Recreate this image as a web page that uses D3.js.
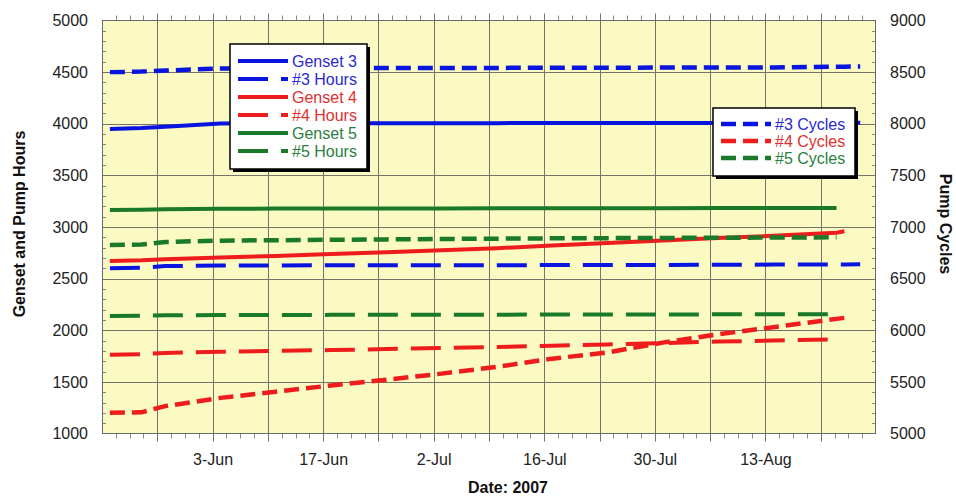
<!DOCTYPE html>
<meta charset="utf-8">
<script src="https://d3js.org/d3.v7.min.js"></script>
<style>
  body { margin: 0; background: #fff; }
  text { font-family: "Liberation Sans", Arial, sans-serif; }
</style>
<div id="chart"></div>
<script>

// readings: days counted from 20-May-2007
var days    = [1, 5, 8, 15, 22, 29, 36, 43, 50, 57, 64, 71, 78, 85, 93, 94, 96];

var genset3 = [3950, 3958, 3972, 4003, 4004, 4005, 4005, 4006, 4006, 4007, 4007, 4008, 4008, 4009, 4010, 4010, 4010];
var hours3  = [2600, 2605, 2622, 2626, 2628, 2630, 2630, 2630, 2630, 2631, 2632, 2633, 2634, 2636, 2638, 2638, 2640];
var cycles3 = [8500, 8505, 8515, 8535, 8538, 8540, 8540, 8541, 8541, 8542, 8543, 8544, 8545, 8546, 8552, 8553, 8555];
var genset4 = [2670, 2677, 2688, 2705, 2720, 2738, 2755, 2775, 2795, 2820, 2845, 2870, 2893, 2915, 2945, 2958, null];
var hours4  = [1762, 1768, 1780, 1792, 1800, 1808, 1818, 1828, 1838, 1850, 1862, 1876, 1890, 1900, 1912, null, null];
var cycles4 = [5200, 5205, 5265, 5345, 5405, 5465, 5520, 5580, 5645, 5725, 5785, 5880, 5960, 6030, 6110, 6120, null];
var genset5 = [3165, 3167, 3172, 3176, 3178, 3179, 3180, 3180, 3181, 3181, 3182, 3182, 3183, 3183, 3184, null, null];
var hours5  = [2138, 2140, 2145, 2147, 2148, 2149, 2150, 2150, 2151, 2152, 2152, 2153, 2154, 2154, 2155, null, null];
var cycles5 = [6825, 6830, 6855, 6868, 6872, 6876, 6880, 6884, 6887, 6890, 6892, 6894, 6896, 6898, 6900, null, null];

var xTickDays   = [14, 28, 42, 56, 70, 84];
var xTickLabels = ["3-Jun", "17-Jun", "2-Jul", "16-Jul", "30-Jul", "13-Aug"];
var leftTicks   = [1000, 1500, 2000, 2500, 3000, 3500, 4000, 4500, 5000];
var rightTicks  = [5000, 5500, 6000, 6500, 7000, 7500, 8000, 8500, 9000];

var blue = "#0a14e0", red = "#ee1c1c", green = "#1b7a2a";

var series = [
  {name: "Genset 3",  values: genset3, color: blue,  dash: null,    w: 4,   axis: "L", legend: 1, tc: "#2a2ad0"},
  {name: "#3 Hours",  values: hours3,  color: blue,  dash: "30,13", w: 4,   axis: "L", legend: 1, tc: "#2a2ad0"},
  {name: "Genset 4",  values: genset4, color: red,   dash: null,    w: 4,   axis: "L", legend: 1, tc: "#e03030"},
  {name: "#4 Hours",  values: hours4,  color: red,   dash: "30,13", w: 4,   axis: "L", legend: 1, tc: "#e03030"},
  {name: "Genset 5",  values: genset5, color: green, dash: null,    w: 4,   axis: "L", legend: 1, tc: "#2a8040"},
  {name: "#5 Hours",  values: hours5,  color: green, dash: "30,13", w: 4,   axis: "L", legend: 1, tc: "#2a8040"},
  {name: "#3 Cycles", values: cycles3, color: blue,  dash: "15,7",  w: 4.5, axis: "R", legend: 2, tc: "#2a2ad0"},
  {name: "#4 Cycles", values: cycles4, color: red,   dash: "15,7",  w: 4.5, axis: "R", legend: 2, tc: "#e03030"},
  {name: "#5 Cycles", values: cycles5, color: green, dash: "15,7",  w: 4.5, axis: "R", legend: 2, tc: "#2a8040"}
];

var W = 956, H = 497;
var plot = {left: 102, right: 876, top: 20.5, bottom: 433.5};

var svg = d3.select("#chart").append("svg")
  .attr("width", W).attr("height", H);

var x = d3.scaleLinear().domain([0, 98]).range([plot.left, plot.right]);
var yL = d3.scaleLinear().domain([1000, 5000]).range([plot.bottom, plot.top]);
var yR = d3.scaleLinear().domain([5000, 9000]).range([plot.bottom, plot.top]);

// plot background
svg.append("rect")
  .attr("x", plot.left).attr("y", plot.top)
  .attr("width", plot.right - plot.left).attr("height", plot.bottom - plot.top)
  .attr("fill", "#fbfac2");

// gridlines
var weekDays = d3.range(7, 98, 7);
svg.append("g").selectAll("line").data(weekDays).enter().append("line")
  .attr("x1", function(d) { return Math.round(x(d)) + 0.5; })
  .attr("x2", function(d) { return Math.round(x(d)) + 0.5; })
  .attr("y1", plot.top - 7).attr("y2", plot.bottom + 8)
  .attr("stroke", "#74746a").attr("stroke-width", 1);

svg.append("g").selectAll("line").data(leftTicks.slice(1, -1)).enter().append("line")
  .attr("x1", plot.left).attr("x2", plot.right)
  .attr("y1", function(d) { return Math.round(yL(d)) + 0.5; })
  .attr("y2", function(d) { return Math.round(yL(d)) + 0.5; })
  .attr("stroke", "#74746a").attr("stroke-width", 1);

// minor ticks
var minorX = d3.range(0, 98.01, 1.75).filter(function(d) { return d % 7 !== 0; });
var gm = svg.append("g").attr("stroke", "#888").attr("stroke-width", 1);
minorX.forEach(function(d) {
  var px = Math.round(x(d)) + 0.5;
  gm.append("line").attr("x1", px).attr("x2", px).attr("y1", plot.bottom).attr("y2", plot.bottom + 5);
  gm.append("line").attr("x1", px).attr("x2", px).attr("y1", plot.top).attr("y2", plot.top - 5);
});
var minorY = d3.range(1000, 5001, 100).filter(function(d) { return d % 500 !== 0; });
minorY.forEach(function(d) {
  var py = Math.round(yL(d)) + 0.5;
  gm.append("line").attr("x1", plot.left).attr("x2", plot.left + 4).attr("y1", py).attr("y2", py);
  gm.append("line").attr("x1", plot.right - 4).attr("x2", plot.right).attr("y1", py).attr("y2", py);
});

// frame
svg.append("rect")
  .attr("x", plot.left + 0.5).attr("y", plot.top)
  .attr("width", plot.right - plot.left - 1).attr("height", plot.bottom - plot.top)
  .attr("fill", "none").attr("stroke", "#6a6a6a").attr("stroke-width", 1);

// lines
series.forEach(function(s) {
  var yS = s.axis === "L" ? yL : yR;
  var pts = days.map(function(d, i) { return {d: d, v: s.values[i]}; });
  svg.append("path")
    .datum(pts)
    .attr("d", d3.line()
      .defined(function(p) { return p.v != null; })
      .x(function(p) { return x(p.d); })
      .y(function(p) { return yS(p.v); }))
    .attr("fill", "none")
    .attr("stroke", s.color)
    .attr("stroke-width", s.w)
    .attr("stroke-dasharray", s.dash)
    .attr("stroke-linejoin", "round");
});

// axes
var axL = svg.append("g")
  .attr("transform", "translate(" + plot.left + ",0)")
  .call(d3.axisLeft(yL).tickValues(leftTicks).tickSize(0).tickPadding(14).tickFormat(d3.format("d")));
var axR = svg.append("g")
  .attr("transform", "translate(" + plot.right + ",0)")
  .call(d3.axisRight(yR).tickValues(rightTicks).tickSize(0).tickPadding(14).tickFormat(d3.format("d")));
var axB = svg.append("g")
  .attr("transform", "translate(0," + plot.bottom + ")")
  .call(d3.axisBottom(x).tickValues(xTickDays).tickSize(0).tickPadding(20)
    .tickFormat(function(d, i) { return xTickLabels[i]; }));
[axL, axR, axB].forEach(function(a) {
  a.select(".domain").remove();
  a.selectAll("text")
    .style("font-family", "'Liberation Sans', Arial, sans-serif")
    .style("font-size", "16px")
    .attr("fill", "#222");
});

// axis titles
svg.append("text")
  .attr("transform", "translate(25,224) rotate(-90)")
  .attr("text-anchor", "middle")
  .style("font-size", "16px").style("font-weight", "bold")
  .attr("fill", "#111")
  .text("Genset and Pump Hours");
svg.append("text")
  .attr("transform", "translate(940,224) rotate(90)")
  .attr("text-anchor", "middle")
  .style("font-size", "16px").style("font-weight", "bold")
  .attr("fill", "#111")
  .text("Pump Cycles");
svg.append("text")
  .attr("x", 508).attr("y", 493)
  .attr("text-anchor", "middle")
  .style("font-size", "16px").style("font-weight", "bold")
  .attr("fill", "#111")
  .text("Date: 2007");

// legends
function legend(items, box, rowY, rowH) {
  var g = svg.append("g");
  g.append("rect")
    .attr("x", box.x + 3).attr("y", box.y + 3)
    .attr("width", box.w).attr("height", box.h)
    .attr("fill", "#000");
  g.append("rect")
    .attr("x", box.x).attr("y", box.y)
    .attr("width", box.w).attr("height", box.h)
    .attr("fill", "#fff").attr("stroke", "#000").attr("stroke-width", 1.5);
  items.forEach(function(s, i) {
    var cy = rowY + i * rowH;
    g.append("line")
      .attr("x1", box.x + 8).attr("x2", box.x + 58)
      .attr("y1", cy).attr("y2", cy)
      .attr("stroke", s.color).attr("stroke-width", s.w)
      .attr("stroke-dasharray", s.dash);
    g.append("text")
      .attr("x", box.x + 62).attr("y", cy + 5.5)
      .style("font-size", "16px")
      .attr("fill", s.tc)
      .text(s.name);
  });
}

legend(series.filter(function(s) { return s.legend === 1; }),
  {x: 230, y: 44, w: 137, h: 125}, 61, 18);
legend(series.filter(function(s) { return s.legend === 2; }),
  {x: 713, y: 108, w: 142, h: 68}, 124, 17);

</script>
